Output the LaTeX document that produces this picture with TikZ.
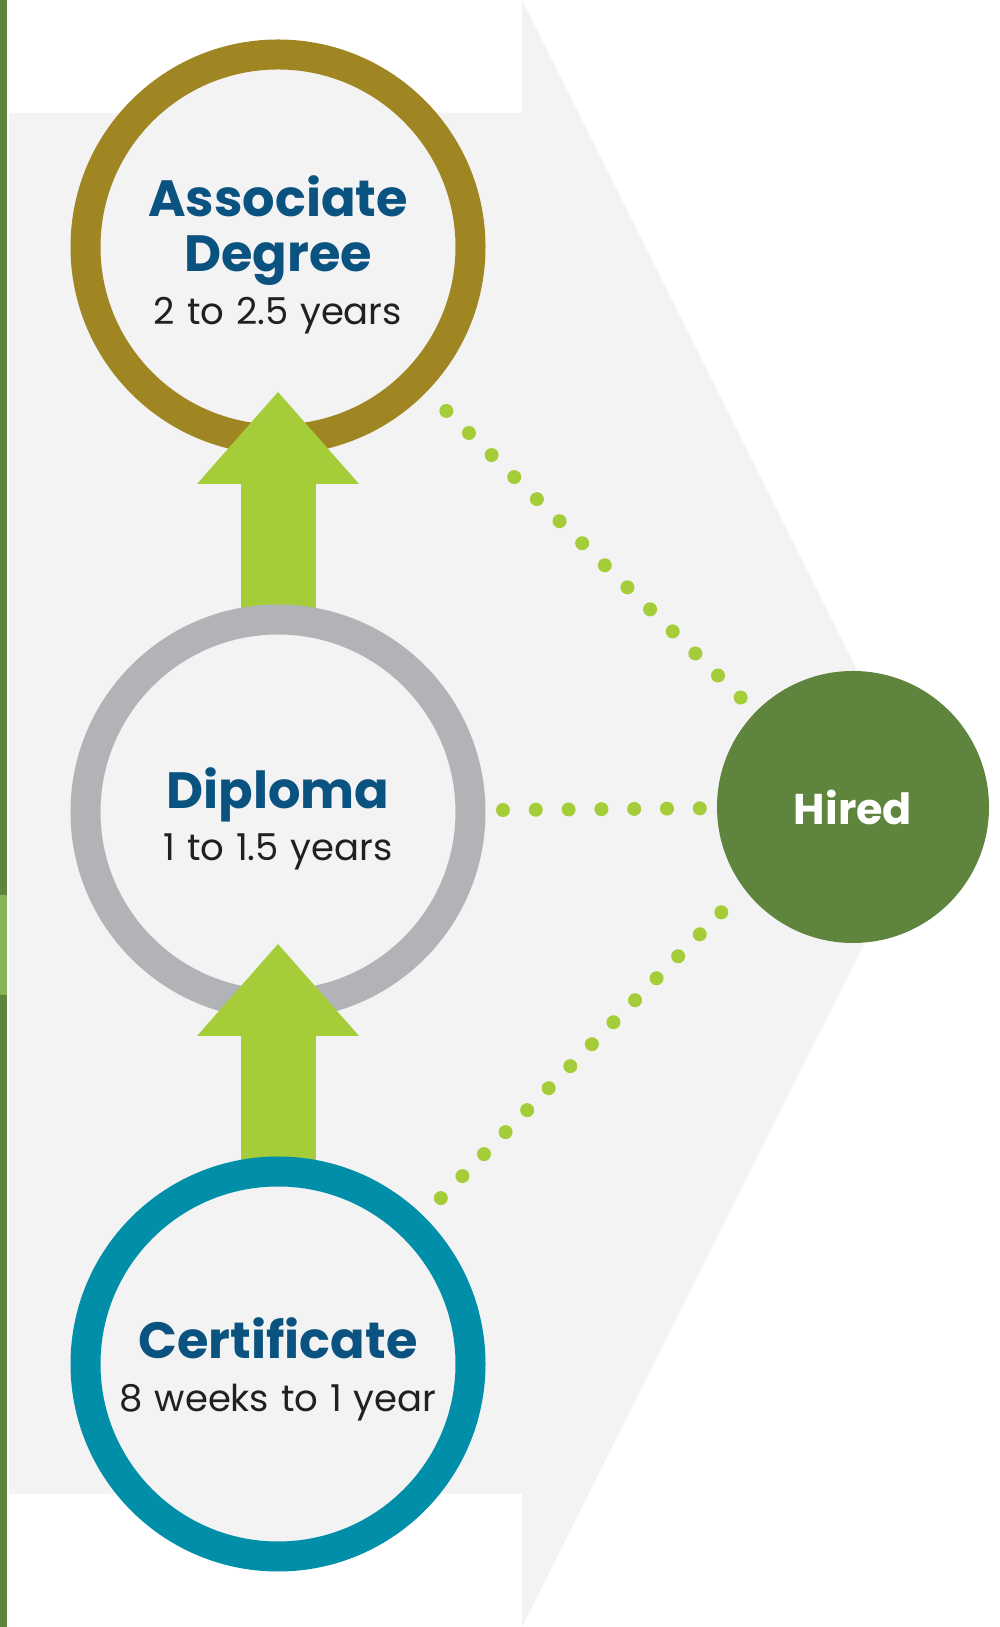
\documentclass[tikz,border=0pt]{standalone}
\usepackage{fontspec}
\setmainfont{Poppins}
\newfontfamily\yearsfont{Poppins}[WordSpace=1.2]
\usetikzlibrary{arrows.meta}
\usetikzlibrary{positioning}

\definecolor{bggray}{HTML}{F3F3F3}
\definecolor{bardark}{HTML}{5F843E}
\definecolor{barlight}{HTML}{86B557}
\definecolor{assocgold}{HTML}{A08623}
\definecolor{diplgray}{HTML}{B2B3B6}
\definecolor{certteal}{HTML}{008EA9}
\definecolor{hiredgreen}{HTML}{5F843E}
\definecolor{limegreen}{HTML}{A5CD39}
\definecolor{titleblue}{HTML}{0A5381}
\definecolor{textdark}{HTML}{231F20}

\pgfdeclarelayer{bg}
\pgfdeclarelayer{low}
\pgfdeclarelayer{top}
\pgfsetlayers{bg,low,main,top}

\tikzset{
  ring/.style={circle, minimum size=385pt, inner sep=0pt, line width=30pt, fill=bggray},
  degtitle/.style={text=titleblue, font=\bfseries\fontsize{51}{56}\selectfont, anchor=base},
  years/.style={text=textdark, font=\yearsfont\fontsize{37}{44}\selectfont, anchor=base},
  dotline/.style={draw=limegreen, line width=14pt, line cap=round, dash pattern=on 0pt off #1},
  uparrow/.style={draw=limegreen, line width=75pt, -{Triangle[length=92pt,width=162pt,line width=0pt]}}
}

\begin{document}
\begin{tikzpicture}[x=1pt,y=1pt]
  \useasboundingbox (0,0) rectangle (1000,1627);

  \begin{pgfonlayer}{bg}
    % backdrop chevron and side bar
    \fill[bggray] (9,133) -- (9,1514) -- (522,1514) -- (522,1627) -- (929,813) -- (522,0) -- (522,133) -- cycle;
    \fill[bardark] (0,0) rectangle (7,1627);
    \fill[barlight] (0,632) rectangle (7,732);
    \node[ring, draw=assocgold] (assoc) at (278,1380) {};
  \end{pgfonlayer}

  \node[ring, draw=diplgray] (diploma) at (278,815) {};

  \begin{pgfonlayer}{top}
    \node[ring, draw=certteal] (cert) at (278,263) {};
  \end{pgfonlayer}

  % steps up
  \begin{pgfonlayer}{low}
    \draw[uparrow, shorten >=145pt] (diploma.center) -- (assoc.center);
  \end{pgfonlayer}
  \draw[uparrow, shorten >=132pt] (cert.center) -- (diploma.center);

  \begin{pgfonlayer}{top}
    \node[circle, fill=hiredgreen, minimum size=272pt, inner sep=0pt, text=white,
          font=\bfseries\fontsize{43}{48}\selectfont] (hired) at (853,820) {Hired};

    % dotted paths to the job
    \draw[dotline=31.6pt, shorten <=27.5pt, shorten >=18pt] (assoc) -- (hired);
    \draw[dotline=32.8pt, shorten <=17.5pt, shorten >=15pt] (diploma) -- (hired);
    \draw[dotline=30.8pt, shorten <=25pt, shorten >=29pt] (cert) -- (hired.217.5);

    % labels
    \node[degtitle] (assoc-t1) at ([yshift=30pt]assoc.center) {Associate};
    \node[degtitle] (assoc-t2) at ([yshift=-25pt]assoc.center) {Degree};
    \node[years] (assoc-yr) at ([yshift=-78pt]assoc.center) {2 to 2.5 years};

    \node[degtitle] (diploma-t1) at ([yshift=3pt]diploma.center) {Diploma};
    \node[years] (diploma-yr) at ([yshift=-49pt]diploma.center) {1 to 1.5 years};

    \node[degtitle] (cert-t1) at ([yshift=5pt]cert.center) {Certificate};
    \node[years] (cert-yr) at ([yshift=-48pt]cert.center) {8 weeks to 1 year};
  \end{pgfonlayer}
\end{tikzpicture}
\end{document}
